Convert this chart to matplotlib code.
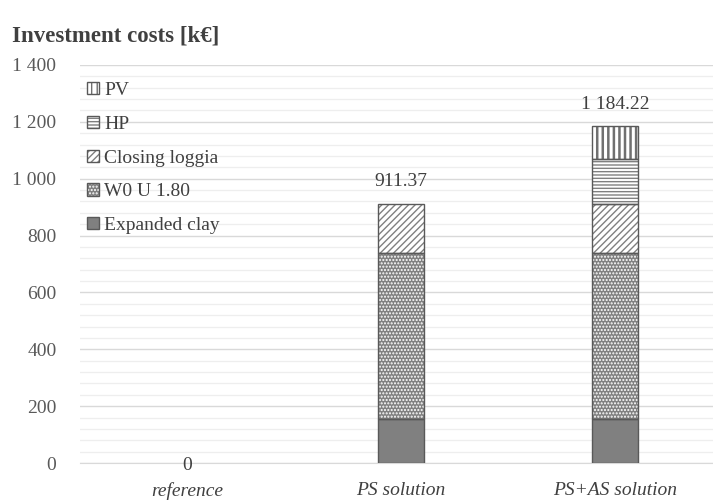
import numpy as np
import matplotlib
matplotlib.use("Agg")
import matplotlib.pyplot as plt
from matplotlib.patches import Patch
from matplotlib.ticker import MultipleLocator, FuncFormatter

# investment cost components per scenario [k€]
categories = ['reference', 'PS solution', 'PS+AS solution']
expanded_clay = [0.0, 155.0, 155.0]
w0_u180 = [0.0, 585.0, 585.0]
closing_loggia = [0.0, 171.37, 171.37]
hp = [0.0, 0.0, 158.0]
pv = [0.0, 0.0, 114.85]

plt.rcParams['font.family'] = ['Liberation Serif', 'DejaVu Serif']
plt.rcParams['hatch.linewidth'] = 1.0

txt = '#404040'
gray = '#808080'
edge = '#595959'

fig = plt.figure(figsize=(7.13, 5.03), dpi=100)
ax = fig.add_axes([80 / 713, 40 / 503, 642 / 713, 398 / 503])

x = np.arange(len(categories))
w = 0.215

# (label, values, face, hatch, hatch colour, hatch width)
layers = [
    ('Expanded clay', expanded_clay, gray, None, gray, 1.0),
    ('W0 U 1.80', w0_u180, gray, '.....', 'white', 1.0),
    ('Closing loggia', closing_loggia, 'white', '/////', gray, 1.0),
    ('HP', hp, 'white', '-----', gray, 1.0),
    ('PV', pv, 'white', '|||', '#707070', 1.8),
]

bottom = np.zeros(len(categories))
handles = []
for name, vals, fc, hatch, hc, hlw in layers:
    vals = np.array(vals)
    nz = vals > 0
    with plt.rc_context({'hatch.linewidth': hlw}):
        ax.bar(x[nz], vals[nz], w, bottom=bottom[nz], color=fc, edgecolor=hc,
               hatch=hatch, linewidth=0, zorder=3)
        ax.bar(x[nz], vals[nz], w, bottom=bottom[nz], fill=False, edgecolor=edge,
               linewidth=1.0, zorder=4)
        handles.append((Patch(facecolor=fc, edgecolor=hc, hatch=hatch, linewidth=0),
                        Patch(fill=False, edgecolor=edge, linewidth=1.0)))
    bottom += vals

totals = bottom
for xi, t in zip(x, totals):
    if t > 0:
        lab = f'{t:,.2f}'.replace(',', ' ')
        ax.annotate(lab, (xi, t), xytext=(0, 16), textcoords='offset points',
                    ha='center', va='center', fontsize=14, color=txt)
    else:
        ax.annotate('0', (xi, t), xytext=(0, -2), textcoords='offset points',
                    ha='center', va='center', fontsize=14, color=txt)

ax.set_xlim(-0.5, 2.5)
ax.set_ylim(0, 1400)
ax.yaxis.set_major_locator(MultipleLocator(200))
ax.yaxis.set_minor_locator(MultipleLocator(40))
ax.yaxis.set_major_formatter(FuncFormatter(lambda v, p: f'{v:,.0f}'.replace(',', ' ')))
ax.grid(axis='y', which='major', color='#d9d9d9', linewidth=1.0, zorder=0)
ax.grid(axis='y', which='minor', color='#eeeeee', linewidth=0.9, zorder=0)
ax.set_axisbelow(True)

for s in ['top', 'right', 'left']:
    ax.spines[s].set_visible(False)
ax.spines['bottom'].set_color('#d9d9d9')
ax.tick_params(axis='y', which='both', length=0, labelsize=14, labelcolor='#595959', pad=17)
ax.tick_params(axis='x', length=0, labelsize=14, labelcolor=txt, pad=14)
ax.set_xticks(x)
ax.set_xticklabels(categories, style='italic')

leg = ax.legend(handles[::-1], [l[0] for l in layers][::-1],
                loc='upper left', bbox_to_anchor=(87 / 713, 1 - 82 / 503),
                bbox_transform=fig.transFigure, frameon=False, fontsize=14,
                handlelength=0.6, handleheight=0.6, handletextpad=0.3,
                labelspacing=0.86, borderpad=0, borderaxespad=0)
for t in leg.get_texts():
    t.set_color(txt)

fig.text(12 / 713, 1 - 36 / 503, 'Investment costs [k€]', fontsize=16.5,
         fontweight='bold', color=txt, va='center', ha='left')

fig.savefig('out.png', dpi=100)
